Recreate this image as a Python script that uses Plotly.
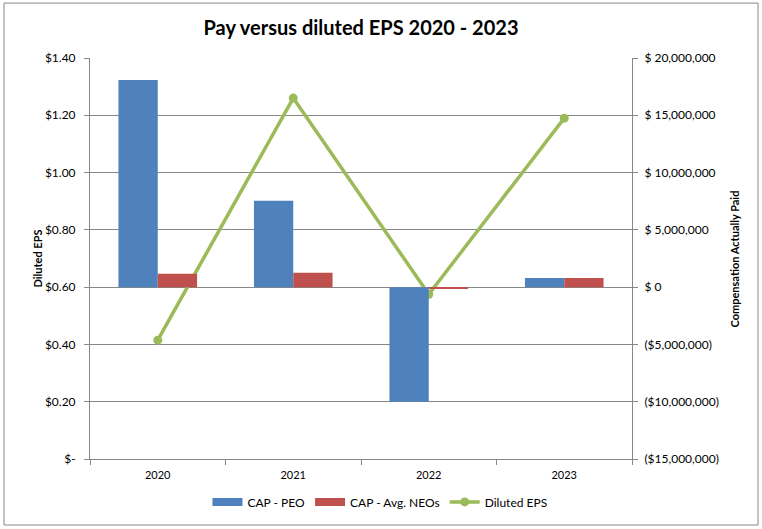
import plotly.graph_objects as go

years = ["2020", "2021", "2022", "2023"]
cap_peo = [18_070_000, 7_550_000, -10_000_000, 800_000]
cap_neo = [1_170_000, 1_250_000, -150_000, 800_000]
diluted_eps = [0.415, 1.26, 0.575, 1.19]

eps_tickvals = [0, 0.2, 0.4, 0.6, 0.8, 1.0, 1.2, 1.4]
eps_ticktext = ["$-", "$0.20", "$0.40", "$0.60", "$0.80", "$1.00", "$1.20", "$1.40"]
cap_tickvals = [-15_000_000, -10_000_000, -5_000_000, 0, 5_000_000, 10_000_000, 15_000_000, 20_000_000]
cap_ticktext = ["($15,000,000)", "($10,000,000)", "($5,000,000)", "$ 0",
                "$ 5,000,000", "$ 10,000,000", "$ 15,000,000", "$ 20,000,000"]

FONT = "Lato, Open Sans, sans-serif"
GRID = "#878787"
BLUE, RED, GREEN = "#4F81BD", "#C0504D", "#9BBB59"

fig = go.Figure()
fig.add_trace(go.Bar(x=years, y=cap_peo, name="CAP - PEO", marker_color=BLUE,
                     yaxis="y2", marker_line_width=0, showlegend=False))
fig.add_trace(go.Bar(x=years, y=cap_neo, name="CAP - Avg. NEOs", marker_color=RED,
                     yaxis="y2", marker_line_width=0, showlegend=False))
# legend-only entries giving wide rectangular swatches like the original
fig.add_trace(go.Scatter(x=[None], y=[None], name="CAP - PEO", mode="lines",
                         line=dict(color=BLUE, width=8), yaxis="y2"))
fig.add_trace(go.Scatter(x=[None], y=[None], name="CAP - Avg. NEOs", mode="lines",
                         line=dict(color=RED, width=8), yaxis="y2"))
fig.add_trace(go.Scatter(x=years, y=diluted_eps, name="Diluted EPS", mode="lines+markers",
                         line=dict(color=GREEN, width=3.5),
                         marker=dict(color=GREEN, size=9), yaxis="y"))

fig.update_layout(
    width=762, height=529,
    margin=dict(l=90, r=130, t=58, b=70),
    paper_bgcolor="white", plot_bgcolor="white",
    font=dict(family=FONT, size=12, color="#000000"),
    title=dict(text="<b>Pay versus diluted EPS 2020 - 2023</b>", x=0.5, xanchor="center",
               xref="paper", y=0.947, yanchor="middle",
               font=dict(family=FONT, size=20, color="#000")),
    barmode="group", bargap=0.42, bargroupgap=0,
    showlegend=True,
    legend=dict(orientation="h", x=0.535, xanchor="center", y=-0.107, yanchor="middle",
                font=dict(size=12), traceorder="normal", itemwidth=30),
    xaxis=dict(type="category", showline=True, linecolor=GRID, linewidth=1,
               ticks="outside", tickson="boundaries", ticklen=5, tickcolor=GRID,
               showgrid=False, tickfont=dict(size=11), ticklabelstandoff=6),
    yaxis=dict(range=[0, 1.4], tickvals=eps_tickvals, ticktext=eps_ticktext,
               showgrid=True, gridcolor=GRID, gridwidth=1, zeroline=False,
               showline=True, linecolor=GRID, ticks="outside", ticklen=5, tickcolor=GRID,
               tickfont=dict(size=12), ticklabelstandoff=6),
    yaxis2=dict(range=[-15_000_000, 20_000_000], tickvals=cap_tickvals, ticktext=cap_ticktext,
                overlaying="y", side="right", showgrid=False, zeroline=False,
                showline=True, linecolor=GRID, ticks="outside", ticklen=5, tickcolor=GRID,
                tickfont=dict(size=12), ticklabelstandoff=4),
    annotations=[
        dict(text="<b>Diluted EPS</b>", xref="paper", yref="paper", x=-0.096, y=0.5,
             xanchor="center", yanchor="middle",
             textangle=-90, showarrow=False, font=dict(size=11)),
        dict(text="<b>Compensation Actually Paid</b>", xref="paper", yref="paper", x=1.19, y=0.5,
             xanchor="center", yanchor="middle",
             textangle=-90, showarrow=False, font=dict(size=11)),
    ],
    shapes=[dict(type="rect", xref="paper", yref="paper", x0=-0.1587, x1=1.2325,
                 y0=-0.1646, y1=1.137, line=dict(color="#878787", width=1))],
)

fig.write_html("out.html")
